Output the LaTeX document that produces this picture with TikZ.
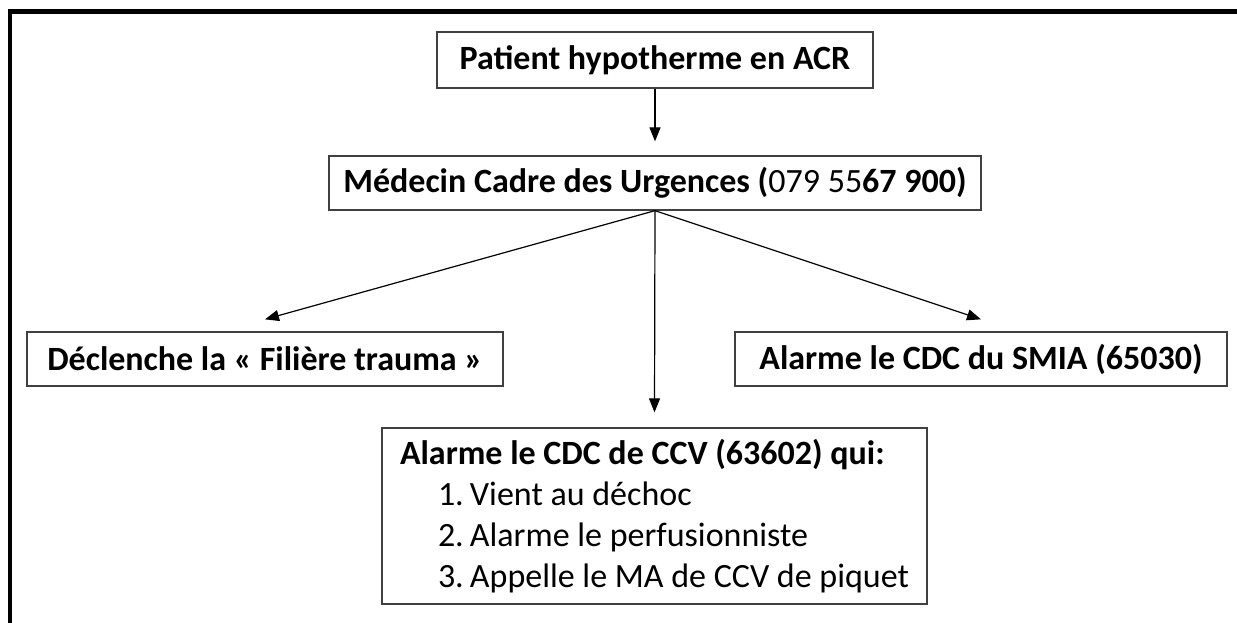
\documentclass[tikz,border=0pt]{standalone}
\usepackage{fontspec}
\setmainfont{Carlito}
\usetikzlibrary{arrows.meta}

\begin{document}
\begin{tikzpicture}[x=1pt,y=-1pt,
  box/.style={draw=black!75, line width=1.3pt, font=\fontsize{34}{41}\selectfont\bfseries, inner sep=0pt, align=center},
  link/.style={-{Triangle[length=14pt,width=11pt]}, line width=1.2pt}]
	\useasboundingbox (0,0) rectangle (1237,623);
	\draw[line width=4.8pt] (10,623)--(10,11.5)--(1237,11.5);
	% boxes
	\node[box, minimum width=436pt, minimum height=56pt] (pat) at (655,60) {Patient hypotherme en ACR};
	\node[box, minimum width=652pt, minimum height=54pt] (mcu) at (655,183) {Médecin Cadre des Urgences (\textmd{079 55}67 900)};
	\node[box, minimum width=476pt, minimum height=54pt] (dec) at (265,359) {Déclenche la « Filière trauma »};
	\node[box, minimum width=492pt, minimum height=54pt] (smia) at (981,359) {Alarme le CDC du SMIA (65030)};
	\node[box, align=flush left, inner xsep=18pt, text width=509pt, minimum height=176pt] (ccv) at (654.5,516)
	  {Alarme le CDC de CCV (63602) qui:\\
	   \mdseries\hspace*{38pt}\makebox[32pt][l]{1.}Vient au déchoc\\
	   \hspace*{38pt}\makebox[32pt][l]{2.}Alarme le perfusionniste\\
	   \hspace*{38pt}\makebox[32pt][l]{3.}Appelle le MA de CCV de piquet};
	% arrows
	\draw[link] (pat)--([yshift=14pt]mcu.north);
	\draw[link] (mcu.south)--([yshift=12pt]dec.north);
	\draw[link] (mcu.south)--([yshift=12pt]smia.north);
	\draw[link] (mcu.south)--([yshift=15pt]ccv.north);
\end{tikzpicture}
\end{document}
